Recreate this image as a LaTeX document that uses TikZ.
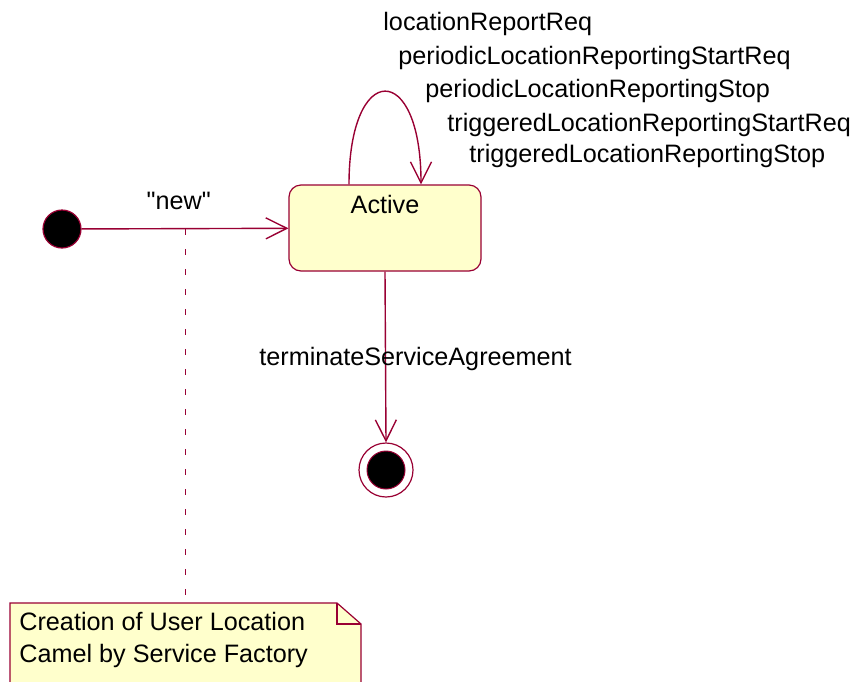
\documentclass[tikz,border=0pt]{standalone}
\usepackage{fontspec}
\setmainfont{Liberation Sans}
\usetikzlibrary{arrows.meta,positioning}
\definecolor{umlline}{HTML}{990033}
\definecolor{umlfill}{HTML}{FFFFCC}

\begin{document}
\begin{tikzpicture}[x=0.5pt,y=-0.5pt,
  font=\fontsize{12.6}{16}\selectfont,
  umlarrow/.style={draw=umlline,line width=0.7pt,-{Straight Barb[length=10.5pt,width=10.5pt]}},
  initstate/.style={circle,fill=black,draw=umlline,line width=0.6pt,minimum size=19pt,inner sep=0pt},
  finalring/.style={circle,fill=white,draw=umlline,line width=0.6pt,minimum size=27pt,inner sep=0pt},
  finalstate/.style={circle,fill=black,draw=umlline,line width=0.5pt,minimum size=19pt,inner sep=0pt},
  statebox/.style={draw=umlline,fill=umlfill,line width=0.6pt,rounded corners=6pt,minimum width=96pt,minimum height=43pt},
  notelink/.style={draw=umlline,line width=0.5pt,dash pattern=on 3pt off 7pt}]

\useasboundingbox (0,0) rectangle (867,681);

% states
\node[initstate] (init) at (62,229) {};
\node[statebox,label={[anchor=north,yshift=-2pt]north:Active}] (active) at (385,228) {};
\node[finalring] (final) at (386,470) {};
\node[finalstate] (finaldot) at (final) {};

% note
\coordinate (newmid) at (185,229);
\coordinate (notetop) at (185,603);
\draw[notelink] (newmid) -- (notetop);
\filldraw[draw=umlline,fill=umlfill,line width=0.6pt] (10,690) -- (10,603) -- (337,603) -- (361,624) -- (361,690);
\draw[umlline,line width=0.6pt] (337,603) -- (337,624) -- (361,624);
\node[anchor=north west,inner sep=0pt,align=left] (note) at (19,612) {Creation of User Location\\Camel by Service Factory};

% transitions
\draw[umlarrow] (init) -- node[pos=0.47,above=6pt] {\textquotedbl new\textquotedbl} (active);
\draw[umlarrow] ([xshift=-18pt]active.north) .. controls +(0,-124) and +(0,-124) .. ([xshift=18pt]active.north);
\draw[umlarrow] (active.south) -- node[pos=0.55,anchor=base,xshift=15pt] {terminateServiceAgreement} (final.north);

% self transition labels
\node[anchor=base west,inner sep=0pt] (lblreport) at (383,30) {locationReportReq};
\node[anchor=base west,inner sep=0pt] (lblperstart) at (398,64) {periodicLocationReportingStartReq};
\node[anchor=base west,inner sep=0pt] (lblperstop) at (425,97) {periodicLocationReportingStop};
\node[anchor=base west,inner sep=0pt] (lbltrigstart) at (447,131) {triggeredLocationReportingStartReq};
\node[anchor=base west,inner sep=0pt] (lbltrigstop) at (469,162) {triggeredLocationReportingStop};
\end{tikzpicture}
\end{document}
